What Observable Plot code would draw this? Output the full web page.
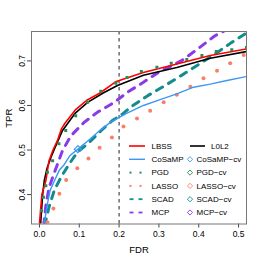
<!DOCTYPE html>
<html><head><meta charset="utf-8">
<script src="https://cdn.jsdelivr.net/npm/d3@7"></script>
<script src="https://cdn.jsdelivr.net/npm/@observablehq/plot@0.6"></script>
<style>body{margin:0;background:#fff} svg{display:block}</style>
</head><body><div id="chart"></div>
<script>
// ---- data ----
const lbssFDR = [0, 0.006, 0.016, 0.024, 0.034, 0.045, 0.055, 0.064, 0.09, 0.121, 0.152, 0.193, 0.261, 0.345, 0.429, 0.52];
const lbssTPR = [0.335, 0.40, 0.431, 0.476, 0.50, 0.521, 0.547, 0.560, 0.59, 0.613, 0.628, 0.654, 0.674, 0.693, 0.712, 0.727];
const l0l2FDR = [0.003, 0.008, 0.012, 0.019, 0.029, 0.039, 0.058, 0.09, 0.121, 0.16, 0.196, 0.261, 0.345, 0.429, 0.52];
const l0l2TPR = [0.335, 0.40, 0.431, 0.459, 0.484, 0.505, 0.544, 0.583, 0.607, 0.628, 0.645, 0.668, 0.685, 0.706, 0.721];
const cosampFDR = [0.012, 0.020, 0.027, 0.037, 0.05, 0.062, 0.076, 0.0965, 0.122, 0.156, 0.178, 0.198, 0.22, 0.261, 0.303, 0.345, 0.387, 0.429, 0.471, 0.52];
const cosampTPR = [0.335, 0.379, 0.410, 0.430, 0.455, 0.467, 0.487, 0.502, 0.521, 0.547, 0.562, 0.572, 0.583, 0.60, 0.613, 0.626, 0.641, 0.648, 0.656, 0.665];
const pgdFDR = [0.005, 0.010, 0.016, 0.020, 0.033, 0.049, 0.066, 0.091, 0.121, 0.154, 0.192, 0.22, 0.256, 0.295, 0.331, 0.370, 0.408, 0.444, 0.483, 0.52];
const pgdTPR = [0.364, 0.394, 0.420, 0.450, 0.476, 0.514, 0.544, 0.577, 0.607, 0.632, 0.650, 0.663, 0.676, 0.686, 0.695, 0.703, 0.712, 0.721, 0.725, 0.730];
const lassoFDR = [0.020, 0.035, 0.050, 0.067, 0.095, 0.123, 0.151, 0.182, 0.211, 0.245, 0.278, 0.312, 0.345, 0.379, 0.412, 0.446, 0.479, 0.513];
const lassoTPR = [0.338, 0.369, 0.402, 0.433, 0.459, 0.481, 0.505, 0.528, 0.553, 0.571, 0.588, 0.607, 0.624, 0.642, 0.661, 0.678, 0.695, 0.713];
const scadFDR = [0.014, 0.016, 0.024, 0.037, 0.054, 0.075, 0.095, 0.125, 0.154, 0.183, 0.209, 0.23, 0.272, 0.314, 0.356, 0.398, 0.44, 0.482, 0.521];
const scadTPR = [0.330, 0.342, 0.372, 0.409, 0.439, 0.469, 0.495, 0.517, 0.543, 0.566, 0.581, 0.597, 0.622, 0.644, 0.667, 0.691, 0.715, 0.741, 0.763];
const mcpFDR = [0.010, 0.012, 0.016, 0.024, 0.041, 0.058, 0.079, 0.112, 0.146, 0.188, 0.22, 0.261, 0.30, 0.356, 0.398, 0.44, 0.48];
const mcpTPR = [0.330, 0.342, 0.375, 0.416, 0.458, 0.499, 0.532, 0.562, 0.585, 0.607, 0.629, 0.652, 0.675, 0.70, 0.727, 0.756, 0.775];
// cross-validated choices (only CoSaMP-cv falls inside the window)
const cvMethods = ["CoSaMP-cv"];
const cvFDR = [0.0965];
const cvTPR = [0.502];
const xTicks = [0, 0.1, 0.2, 0.3, 0.4, 0.5];
const yTicks = [0.4, 0.5, 0.6, 0.7];
const fdrCutoff = [0.2];
const legendLeft = ["LBSS", "CoSaMP", "PGD", "LASSO", "SCAD", "MCP"];
const legendRight = ["L0L2", "CoSaMP\u2212cv", "PGD\u2212cv", "LASSO\u2212cv", "SCAD\u2212cv", "MCP\u2212cv"];

// ---- styles ----
const col = {LBSS:"#FF0000", L0L2:"#000000", CoSaMP:"#3D97F5", PGD:"#2E8B57", LASSO:"#FA7F68", SCAD:"#128C8C", MCP:"#8A3BE8"};
const font = "'Liberation Sans', Arial, Helvetica, sans-serif";

const rows = (f, t) => f.map((x, i) => ({fdr: x, tpr: t[i]}));
const lbss = rows(lbssFDR, lbssTPR), l0l2 = rows(l0l2FDR, l0l2TPR), cosamp = rows(cosampFDR, cosampTPR);
const pgd = rows(pgdFDR, pgdTPR), lasso = rows(lassoFDR, lassoTPR), scad = rows(scadFDR, scadTPR), mcp = rows(mcpFDR, mcpTPR);
const cv = rows(cvFDR, cvTPR);

const plot = Plot.plot({
  width: 262, height: 262,
  marginLeft: 31, marginRight: 16, marginTop: 31, marginBottom: 38.5,
  style: {fontFamily: font, fontSize: "8.5px", background: "#fff", color: "#000"},
  x: {domain: [-0.02, 0.52]},
  y: {domain: [0.334, 0.766]},
  marks: [
    Plot.axisX({ticks: xTicks, tickFormat: d3.format(".1f"), tickSize: 4, tickPadding: 3, label: null, stroke: "#444"}),
    Plot.axisY({ticks: yTicks, tickFormat: d3.format(".1f"), tickSize: 4, tickPadding: 3, tickRotate: -90, textAnchor: "middle", label: null, stroke: "#444"}),
    Plot.text(["FDR"], {frameAnchor: "bottom", dy: 26, fontSize: 9.5, lineAnchor: "middle"}),
    Plot.text(["TPR"], {frameAnchor: "left", dx: -23, rotate: -90, fontSize: 9.5, lineAnchor: "middle"}),
    Plot.ruleX(fdrCutoff, {stroke: "#222", strokeDasharray: "3.5,3.5", strokeWidth: 1}),
    Plot.line(mcp, {x: "fdr", y: "tpr", stroke: col.MCP, strokeWidth: 3, strokeDasharray: "7,7", clip: true}),
    Plot.line(scad, {x: "fdr", y: "tpr", stroke: col.SCAD, strokeWidth: 3, strokeDasharray: "7,7", clip: true}),
    Plot.dot(lasso, {x: "fdr", y: "tpr", fill: col.LASSO, r: 2, clip: true}),
    Plot.line(cosamp, {x: "fdr", y: "tpr", stroke: col.CoSaMP, strokeWidth: 1.4, clip: true}),
    Plot.line(l0l2, {x: "fdr", y: "tpr", stroke: col.L0L2, strokeWidth: 1.6, clip: true}),
    Plot.line(lbss, {x: "fdr", y: "tpr", stroke: col.LBSS, strokeWidth: 1.6, clip: true}),
    Plot.dot(pgd, {x: "fdr", y: "tpr", fill: col.PGD, symbol: "square", r: 1.7, clip: true}),
    Plot.dot(cv, {x: "fdr", y: "tpr", stroke: col.CoSaMP, symbol: "diamond2", r: 3.2, strokeWidth: 1.2, clip: true}),
    Plot.frame({stroke: "#777"})
  ]
});
document.getElementById("chart").appendChild(plot);

// ---- legend inside the plot (no border) ----
const svg = d3.select(plot);
const g = svg.append("g").attr("font-family", font).attr("font-size", 8).attr("text-anchor", "start").attr("fill", "#000");
const rowY0 = 146, rowDy = 13.3;
const leftStyles = {
  LBSS: {type: "line", w: 1.6}, CoSaMP: {type: "line", w: 1.4}, PGD: {type: "dots"},
  LASSO: {type: "dots"}, SCAD: {type: "dash"}, MCP: {type: "dash"}
};
legendLeft.forEach((name, i) => {
  const y = rowY0 + i * rowDy, c = col[name], s = leftStyles[name];
  if (s.type === "line") g.append("line").attr("x1", 129).attr("x2", 145).attr("y1", y).attr("y2", y).attr("stroke", c).attr("stroke-width", s.w);
  if (s.type === "dots") [130.5, 140.5].forEach(x => g.append("rect").attr("x", x - 1).attr("y", y - 1).attr("width", 2).attr("height", 2).attr("fill", c));
  if (s.type === "dash") [[129.5, 133.5], [138.5, 142.5]].forEach(([a, b]) => g.append("line").attr("x1", a).attr("x2", b).attr("y1", y).attr("y2", y).attr("stroke", c).attr("stroke-width", 1.8));
  g.append("text").attr("x", 151.5).attr("y", y).attr("dy", "0.35em").attr("text-anchor", "start").text(name);
});
legendRight.forEach((name, i) => {
  const y = rowY0 + i * rowDy;
  if (i === 0) {
    g.append("line").attr("x1", 190).attr("x2", 205).attr("y1", y).attr("y2", y).attr("stroke", col.L0L2).attr("stroke-width", 1.6);
    g.append("text").attr("x", 211).attr("y", y).attr("dy", "0.35em").attr("text-anchor", "start").text(name);
  } else {
    const c = col[legendLeft[i]];
    const r = 2.6;
    g.append("path").attr("d", `M190,${y - r}L${190 + r},${y}L190,${y + r}L${190 - r},${y}Z`).attr("fill", "none").attr("stroke", c).attr("stroke-width", 0.9);
    g.append("text").attr("x", 196.5).attr("y", y).attr("dy", "0.35em").attr("text-anchor", "start").text(name);
  }
});
</script></body></html>
